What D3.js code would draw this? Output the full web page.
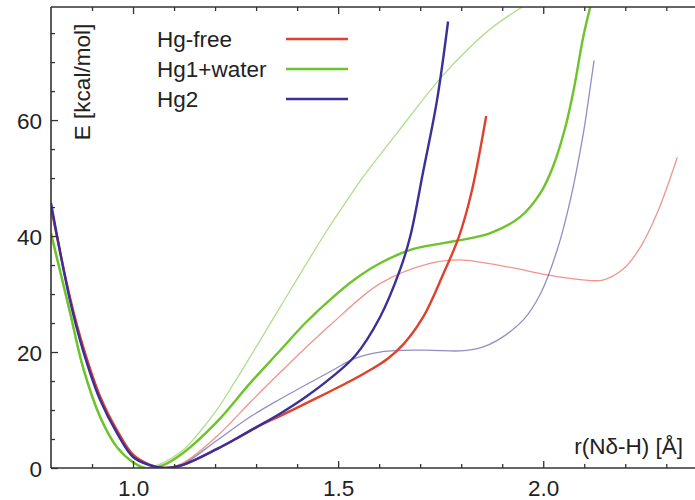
<!DOCTYPE html>
<html>
<head>
<meta charset="utf-8">
<script src="https://cdn.jsdelivr.net/npm/d3@7"></script>
<style>
  html, body { margin: 0; padding: 0; background: #fff; }
  svg { display: block; }
  text { font-family: "Liberation Sans", Arial, Helvetica, sans-serif; fill: #222; }
</style>
</head>
<body>
<svg id="chart" width="695" height="500"></svg>
<script>
// Potential energy profiles along the Nδ–H coordinate
const seriesNames = ["Hg-free", "Hg1+water", "Hg2"];
const seriesColors = ["#e0402e", "#6cc32a", "#3b2f98"];

// Thick curves (r in Å, E in kcal/mol)
const hgFreeR = [0.80, 0.846, 0.878, 0.92, 0.961, 1.00, 1.04, 1.075, 1.12, 1.205, 1.25, 1.30, 1.359, 1.42, 1.48, 1.53, 1.578, 1.62, 1.66, 1.707, 1.756, 1.795, 1.825, 1.861];
const hgFreeE = [45.0, 29.5, 21.0, 12.3, 6.5, 2.3, 0.6, 0.0, 0.5, 3.3, 5.0, 7.0, 9.0, 11.1, 13.2, 15.0, 16.9, 18.8, 21.4, 26.0, 33.4, 40.0, 47.5, 60.7];

const hg1WaterR = [0.80, 0.846, 0.878, 0.92, 0.961, 1.00, 1.03, 1.07, 1.122, 1.205, 1.285, 1.359, 1.42, 1.48, 1.54, 1.602, 1.676, 1.75, 1.798, 1.871, 1.944, 1.993, 2.024, 2.054, 2.075, 2.098, 2.12];
const hg1WaterE = [40.5, 27.0, 17.4, 8.8, 3.6, 1.0, 0.0, 0.4, 2.6, 8.0, 14.6, 20.3, 25.0, 29.0, 32.5, 35.3, 37.6, 38.7, 39.3, 40.5, 43.3, 47.4, 52.0, 58.8, 65.5, 74.5, 81.0];

const hg2R = [0.80, 0.846, 0.878, 0.92, 0.961, 1.00, 1.04, 1.078, 1.12, 1.205, 1.25, 1.30, 1.359, 1.42, 1.48, 1.541, 1.602, 1.651, 1.676, 1.707, 1.741, 1.768];
const hg2E = [45.7, 29.0, 20.3, 11.7, 6.0, 1.9, 0.5, 0.0, 0.5, 3.3, 5.0, 7.0, 9.4, 12.2, 15.4, 19.3, 26.0, 34.2, 40.0, 51.0, 63.4, 77.0];

// Thin curves (second set of profiles, same systems)
const hgFreeAltR = [0.80, 0.846, 0.878, 0.92, 0.961, 1.00, 1.04, 1.07, 1.12, 1.205, 1.285, 1.359, 1.48, 1.602, 1.724, 1.798, 1.846, 1.927, 2.01, 2.09, 2.145, 2.195, 2.237, 2.278, 2.327];
const hgFreeAltE = [45.0, 29.5, 21.0, 12.3, 6.5, 2.2, 0.5, 0.0, 0.8, 5.5, 11.3, 16.5, 24.6, 31.8, 35.3, 35.9, 35.5, 34.5, 33.3, 32.5, 32.4, 34.3, 38.1, 44.0, 53.6];

const hg1WaterAltR = [0.80, 0.846, 0.878, 0.92, 0.961, 1.00, 1.025, 1.06, 1.122, 1.16, 1.205, 1.245, 1.285, 1.359, 1.473, 1.522, 1.561, 1.644, 1.749, 1.822, 1.88, 1.951, 1.99];
const hg1WaterAltE = [40.0, 26.5, 17.0, 8.5, 3.4, 0.9, 0.0, 0.5, 3.1, 6.0, 10.1, 14.5, 19.1, 27.8, 41.0, 46.2, 50.2, 57.8, 67.2, 72.6, 76.2, 79.6, 81.2];

const hg2AltR = [0.80, 0.846, 0.878, 0.92, 0.961, 1.00, 1.04, 1.078, 1.12, 1.205, 1.285, 1.359, 1.48, 1.541, 1.602, 1.659, 1.73, 1.798, 1.85, 1.888, 1.951, 1.993, 2.034, 2.066, 2.098, 2.11, 2.124];
const hg2AltE = [45.7, 29.0, 20.3, 11.7, 6.0, 1.9, 0.5, 0.0, 0.6, 4.8, 8.8, 11.9, 16.6, 18.9, 20.0, 20.3, 20.3, 20.2, 20.8, 22.0, 25.5, 30.0, 37.6, 46.2, 57.8, 63.4, 70.3];

const xMajorTicks = [1.0, 1.5, 2.0];
const xTickLabels = ["1.0", "1.5", "2.0"];
const yMajorTicks = [0, 20, 40, 60];
const yTickLabels = ["0", "20", "40", "60"];

const svg = d3.select("#chart");
const plotLeft = 51, plotRight = 695, plotTop = 7, plotBottom = 468;
const fontSize = "22.5px";

const x = d3.scaleLinear().domain([0.8, 2.37]).range([plotLeft, plotRight]);
const y = d3.scaleLinear().domain([0, 79.5]).range([plotBottom, plotTop]);

svg.append("defs").append("clipPath").attr("id", "plot-clip")
  .append("rect").attr("x", plotLeft).attr("y", plotTop)
  .attr("width", plotRight - plotLeft).attr("height", plotBottom - plotTop);

const zip = (rs, es) => rs.map((r, i) => ({ r, e: es[i] }));
const line = d3.line().x(d => x(d.r)).y(d => y(d.e)).curve(d3.curveCatmullRom.alpha(0.5));

const thin = [
  { data: zip(hgFreeAltR, hgFreeAltE), color: seriesColors[0] },
  { data: zip(hg1WaterAltR, hg1WaterAltE), color: seriesColors[1] },
  { data: zip(hg2AltR, hg2AltE), color: seriesColors[2] }
];
const thick = [
  { data: zip(hg1WaterR, hg1WaterE), color: seriesColors[1] },
  { data: zip(hgFreeR, hgFreeE), color: seriesColors[0] },
  { data: zip(hg2R, hg2E), color: seriesColors[2] }
];

const plot = svg.append("g").attr("clip-path", "url(#plot-clip)");
plot.selectAll("path.thin").data(thin).join("path")
  .attr("class", "thin")
  .attr("d", d => line(d.data))
  .attr("fill", "none")
  .attr("stroke", d => d.color)
  .attr("stroke-opacity", 0.55)
  .attr("stroke-width", 1.3);
plot.selectAll("path.thick").data(thick).join("path")
  .attr("class", "thick")
  .attr("d", d => line(d.data))
  .attr("fill", "none")
  .attr("stroke", d => d.color)
  .attr("stroke-width", 2.4);

// Axes with inward ticks
const axisColor = "#333";
const xMinor = d3.range(0.9, 2.37, 0.1).filter(v => !xMajorTicks.some(m => Math.abs(m - v) < 1e-6));
const yMinor = d3.range(5, 80, 5).filter(v => !yMajorTicks.includes(v));

function styleAxis(g) {
  g.select(".domain").remove();
  g.selectAll(".tick line").attr("stroke", axisColor).attr("stroke-width", 1.3);
  g.selectAll(".tick text").style("font-size", fontSize).attr("fill", "#222");
}

// bottom
svg.append("g").attr("transform", `translate(0,${plotBottom})`)
  .call(d3.axisBottom(x).tickValues(xMajorTicks).tickSize(-7).tickPadding(0)
    .tickFormat((d, i) => xTickLabels[i]))
  .call(styleAxis)
  .call(g => g.selectAll(".tick text").attr("y", 28).attr("dy", null));
svg.append("g").attr("transform", `translate(0,${plotBottom})`)
  .call(d3.axisBottom(x).tickValues(xMinor).tickSize(-4).tickFormat(""))
  .call(styleAxis);

// top
svg.append("g").attr("transform", `translate(0,${plotTop})`)
  .call(d3.axisTop(x).tickValues(xMajorTicks).tickSize(-7).tickFormat(""))
  .call(styleAxis);
svg.append("g").attr("transform", `translate(0,${plotTop})`)
  .call(d3.axisTop(x).tickValues(xMinor).tickSize(-4).tickFormat(""))
  .call(styleAxis);

// left
svg.append("g").attr("transform", `translate(${plotLeft},0)`)
  .call(d3.axisLeft(y).tickValues(yMajorTicks).tickSize(-7).tickPadding(9)
    .tickFormat((d, i) => yTickLabels[i]))
  .call(styleAxis)
  .call(g => g.selectAll(".tick text").attr("x", -9).attr("dy", "0.36em"));
svg.append("g").attr("transform", `translate(${plotLeft},0)`)
  .call(d3.axisLeft(y).tickValues(yMinor).tickSize(-4).tickFormat(""))
  .call(styleAxis);

// frame lines
svg.append("line").attr("x1", plotLeft).attr("x2", plotLeft).attr("y1", plotTop).attr("y2", plotBottom)
  .attr("stroke", axisColor).attr("stroke-width", 1.6);
svg.append("line").attr("x1", plotLeft).attr("x2", plotRight).attr("y1", plotBottom).attr("y2", plotBottom)
  .attr("stroke", axisColor).attr("stroke-width", 1.6);
svg.append("line").attr("x1", plotLeft).attr("x2", plotRight).attr("y1", plotTop).attr("y2", plotTop)
  .attr("stroke", axisColor).attr("stroke-width", 1.6);

// axis titles
svg.append("text")
  .attr("transform", `translate(90,82) rotate(-90)`)
  .attr("text-anchor", "middle")
  .style("font-size", fontSize)
  .text("E [kcal/mol]");
svg.append("text")
  .attr("x", 683).attr("y", 454)
  .attr("text-anchor", "end")
  .style("font-size", fontSize)
  .text("r(Nδ-H) [Å]");

// legend
const legendY = [39, 69, 99];
const legend = svg.append("g");
seriesNames.forEach((name, i) => {
  legend.append("text").attr("x", 157).attr("y", legendY[i] + 8)
    .style("font-size", fontSize).text(name);
  legend.append("line").attr("x1", 286).attr("x2", 348)
    .attr("y1", legendY[i]).attr("y2", legendY[i])
    .attr("stroke", seriesColors[i]).attr("stroke-width", 2.6);
});
</script>
</body>
</html>
